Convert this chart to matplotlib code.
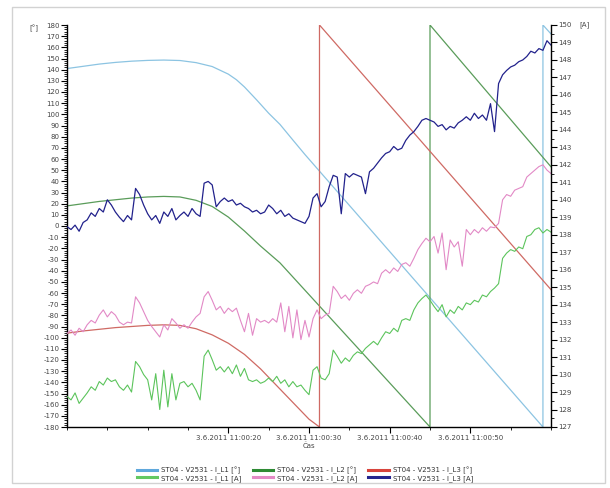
import numpy as np
import matplotlib.pyplot as plt
from matplotlib.lines import Line2D
from matplotlib.patches import Rectangle
from matplotlib.ticker import MultipleLocator, FixedLocator

plt.rcParams['font.family'] = ['DejaVu Sans']
plt.rcParams['axes.unicode_minus'] = False

# phase angles [deg], (time in s from 11:00:00, value), wraps at -180/180
l1_deg_t = [0, 2, 4, 6, 8, 10, 12, 14, 16, 18, 20, 21, 22, 23.5, 25, 26.4, 28, 29.5, 59.0, 59.0, 60]
l1_deg = [141, 143, 145, 146.5, 147.6, 148.3, 148.6, 148.2, 146.3, 142.8, 136, 131, 124.5, 113, 101, 91, 77, 64, -180, 180, 172]

l2_deg_t = [0, 2, 4, 6, 8, 10, 12, 14, 16, 18, 20, 22, 24, 26.4, 45.0, 45.0, 60]
l2_deg = [18, 20, 22, 23.5, 25, 26, 26.5, 26, 23, 17.5, 8, -4.5, -18, -33, -180, 180, 53]

l3_deg_t = [0, 2, 4, 6, 8, 10, 12, 14, 16, 18, 20, 22, 24, 26, 28, 30, 31.3, 31.3, 60]
l3_deg = [-96, -94, -92.5, -91, -90, -89, -88.5, -89, -92, -97.5, -105, -115, -128, -143, -158, -173, -180, 180, -57]

# currents [A], one sample every 0.5 s
l1_amp = [128.75, 128.55, 128.95, 128.35, 128.65, 128.95, 129.3, 129.1, 129.6, 129.4,
          129.8, 129.6, 129.7, 129.3, 129.1, 129.4, 129.0, 130.75, 130.45, 130.0,
          129.7, 128.55, 130.05, 128.0, 130.25, 128.15, 130.05, 128.55, 129.5,
          129.6, 129.3, 129.5, 129.1, 128.55, 131.05, 131.4, 130.85, 130.25, 130.45,
          130.15, 130.45, 130.05, 130.55, 129.9, 130.35, 129.7, 129.6, 129.7, 129.5,
          129.6, 129.8, 129.6, 129.9, 129.5, 129.7, 129.3, 129.6, 129.3, 129.4,
          129.1, 128.85, 130.25, 130.45, 129.8, 129.7, 130.05, 131.4, 131.05, 130.65,
          130.95, 130.75, 131.1, 131.3, 131.2, 131.5, 131.7, 131.9, 131.7, 132.1,
          132.45, 132.35, 132.65, 132.45, 133.1, 133.2, 133.1, 133.7, 134.1, 134.35, 134.55,
          134.25, 133.9, 133.6, 134.0, 133.3, 133.7, 133.5, 133.9, 133.7, 134.1,
          134.0, 134.25, 134.15, 134.55, 134.45, 134.75, 134.95,
          135.2, 136.65, 136.95, 137.15, 137.05, 137.3, 137.2, 137.9, 138.0, 138.3,
          138.4, 138.1, 138.3, 138.15]

l2_amp = [132.35, 132.55, 132.25, 132.65, 132.45, 132.85, 133.1, 132.95, 133.4, 133.7,
          133.3, 133.6, 133.4, 133.0, 132.85, 133.0, 132.95, 134.45, 134.1, 133.6,
          133.1, 132.75, 132.45, 132.15, 132.85, 132.55, 133.2, 132.95, 132.65,
          132.85, 132.65, 133.0, 133.3, 133.5, 134.45, 134.75, 134.25, 133.7, 133.9,
          133.5, 133.8, 133.6, 133.8, 133.1, 132.45, 133.5, 132.25, 133.2, 133.0,
          133.1, 132.95, 133.2, 133.0, 134.1, 132.45, 133.9, 132.1, 133.7, 132.0,
          133.1, 132.15, 133.2, 133.7, 133.2, 133.4, 133.5, 135.05, 134.75, 134.35,
          134.55, 134.25, 134.65, 134.85, 134.65, 135.05, 135.15, 135.3, 135.2, 135.8,
          136.0, 135.8, 136.1, 135.9, 136.3, 136.4, 136.2, 136.65, 137.15, 137.5, 137.8,
          137.6, 137.9, 136.95, 138.1, 136.0, 137.7, 137.3, 137.6, 136.2, 138.3,
          138.0, 138.3, 138.1, 138.4, 138.2, 138.45, 138.4,
          138.65, 140.0, 140.3, 140.2, 140.55, 140.65, 140.75, 141.3, 141.5, 141.7,
          141.9, 142.0, 141.7, 141.5]

l3_amp = [138.46, 138.3, 138.55, 138.2, 138.7, 138.85, 139.25, 139.05, 139.5, 139.3,
          140.0, 139.7, 139.3, 139.0, 138.75, 139.1, 138.85, 140.65, 140.3, 139.7,
          139.2, 138.85, 139.1, 138.65, 139.3, 139.05, 139.5, 138.85, 139.1,
          139.3, 139.05, 139.5, 139.2, 139.05, 140.95, 141.05, 140.85, 139.6, 139.9,
          140.1, 139.9, 140.0, 139.7, 139.8, 139.6, 139.5, 139.3, 139.4, 139.2,
          139.3, 139.7, 139.5, 139.2, 139.4, 139.05, 139.2, 138.95, 138.85, 138.75,
          138.65, 139.05, 140.1, 140.35, 139.6, 139.9, 140.75, 141.4, 141.3, 139.2,
          141.5, 141.3, 141.5, 141.4, 141.3, 140.35, 141.6, 141.8, 142.1, 142.4,
          142.65, 142.75, 143.05, 142.85, 142.95, 143.4, 143.7, 143.9, 144.2, 144.55, 144.65,
          144.55, 144.45, 144.2, 144.3, 144.0, 144.2, 144.1, 144.4, 144.55, 144.75,
          144.55, 144.95, 144.65, 144.85, 144.55, 145.5, 143.9,
          146.65, 147.15, 147.4, 147.6, 147.7, 147.9, 148.0, 148.2, 148.5, 148.4,
          148.65, 148.55, 149.1, 148.85]

sample_step = 0.5
amp_t = np.arange(len(l1_amp)) * sample_step

tick_secs = [20, 30, 40, 50]
tick_labels = ["3.6.2011 11:00:20", "3.6.2011 11:00:30", "3.6.2011 11:00:40", "3.6.2011 11:00:50"]

names = ["ST04 - V2531 - I_L1 [°]", "ST04 - V2531 - I_L1 [A]",
         "ST04 - V2531 - I_L2 [°]", "ST04 - V2531 - I_L2 [A]",
         "ST04 - V2531 - I_L3 [°]", "ST04 - V2531 - I_L3 [A]"]
legend_colors = ["#5fa8dc", "#62c862", "#2e8b34", "#e48bc6", "#d8443c", "#25258e"]

W, H = 610, 488
fig = plt.figure(figsize=(W / 100, H / 100), dpi=100)
fig.add_artist(Rectangle((12 / W, 1 - 483 / H), 593 / W, 476 / H, transform=fig.transFigure,
                         fill=False, ec="#d2d2d2", lw=1))

ax = fig.add_axes([67 / W, 1 - 427 / H, 484 / W, 402 / H])
ax2 = ax.twinx()

ax.plot(l1_deg_t, l1_deg, color="#8cc4e2", lw=0.9)
ax.plot(l2_deg_t, l2_deg, color="#5a9c5a", lw=0.9)
ax.plot(l3_deg_t, l3_deg, color="#cf6a64", lw=0.9)

ax2.plot(amp_t, l1_amp, color="#5cc45c", lw=0.8)
ax2.plot(amp_t, l2_amp, color="#e289c6", lw=0.8)
ax2.plot(amp_t, l3_amp, color="#22228c", lw=0.9)

ax.set_xlim(0, 60)
ax.set_ylim(-180, 180)
ax2.set_ylim(127, 150)

for a in (ax, ax2):
    a.spines["top"].set_visible(False)
    for s in a.spines.values():
        s.set_linewidth(1.0)
ax.spines["right"].set_visible(False)
ax2.spines["left"].set_visible(False)
ax2.spines["bottom"].set_visible(False)

ax.yaxis.set_major_locator(MultipleLocator(10))
ax.yaxis.set_minor_locator(MultipleLocator(2))
ax2.yaxis.set_major_locator(MultipleLocator(1))
ax2.yaxis.set_minor_locator(MultipleLocator(0.5))
ax.xaxis.set_major_locator(FixedLocator(tick_secs))
ax.xaxis.set_minor_locator(MultipleLocator(5))
ax.set_xticklabels(tick_labels)

ax.tick_params(axis="both", which="major", labelsize=5, labelcolor="#444444", length=4, width=0.8, pad=1.5)
ax.tick_params(axis="both", which="minor", length=2, width=0.6)
ax2.tick_params(axis="y", which="major", labelsize=5, labelcolor="#444444", length=4, width=0.8, pad=1.5)
ax2.tick_params(axis="y", which="minor", length=2, width=0.6)

ax.set_xlabel("Čas", fontsize=5, color="#444444", labelpad=1)
fig.text(34 / W, 1 - 28 / H, "[°]", fontsize=5, color="#444444", ha="center", va="center")
fig.text(585 / W, 1 - 25 / H, "[A]", fontsize=5, color="#444444", ha="center", va="center")

handles = [Line2D([], [], color=c, lw=2.2) for c in legend_colors]
fig.legend(handles, names, loc="center", bbox_to_anchor=(305 / W, 1 - 474 / H), ncol=3,
           fontsize=5, frameon=False, handlelength=2.9, handletextpad=0.6,
           columnspacing=1.6, labelspacing=0.15, labelcolor="#333333")

fig.savefig("out.png", dpi=100)
